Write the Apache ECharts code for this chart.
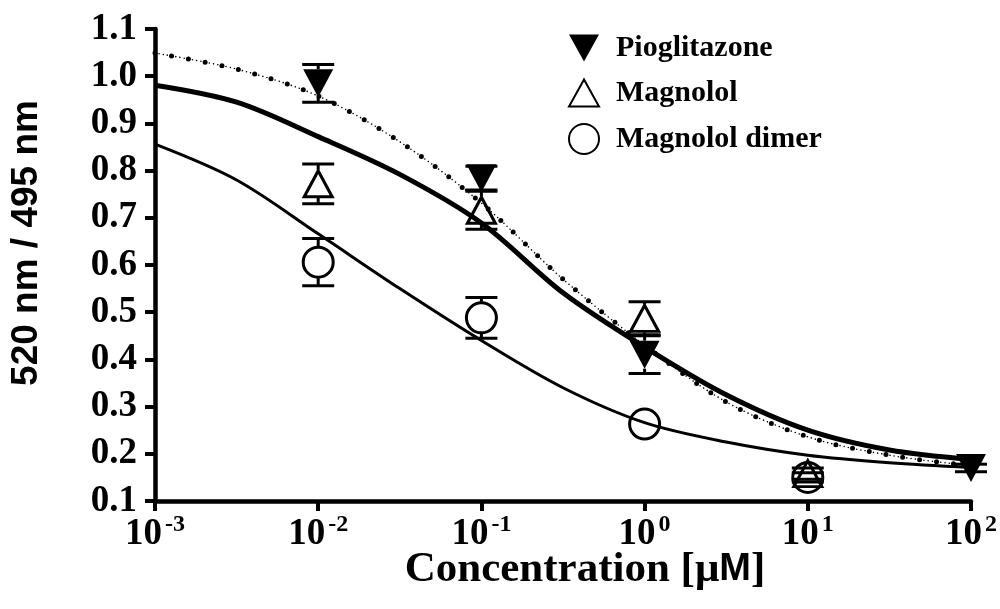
<!DOCTYPE html>
<html>
<head>
<meta charset="utf-8">
<script src="https://cdn.jsdelivr.net/npm/echarts@6/dist/echarts.min.js"></script>
<style>
  html, body { margin: 0; padding: 0; background: #fff; }
  #chart { width: 1000px; height: 609px; }
</style>
</head>
<body>
<div id="chart"></div>
<script>
// Fitted dose-response curves, sampled every half decade (log10 of concentration)
const curveLogX = [-3, -2.5, -2, -1.5, -1, -0.5, 0, 0.5, 1, 1.5, 2];
const pioFit   = [1.049, 1.015, 0.958, 0.861, 0.731, 0.570, 0.430, 0.310, 0.236, 0.197, 0.175];
const magFit   = [0.981, 0.945, 0.872, 0.792, 0.689, 0.541, 0.426, 0.325, 0.250, 0.208, 0.188];
const dimerFit = [0.856, 0.780, 0.666, 0.550, 0.440, 0.340, 0.266, 0.225, 0.197, 0.181, 0.171];

// Measured ratios (mean and SEM) per concentration in µM
const pioConc = [0.01, 0.1, 1, 100];
const pioMean = [0.985, 0.784, 0.410, 0.170];
const pioSem  = [0.040, 0.025, 0.040, 0.008];

const magConc = [0.01, 0.1, 1, 10];
const magMean = [0.772, 0.716, 0.487, 0.158];
const magSem  = [0.042, 0.040, 0.035, 0.012];

const dimConc = [0.01, 0.1, 1, 10];
const dimMean = [0.606, 0.488, 0.263, 0.150];
const dimSem  = [0.050, 0.043, 0.000, 0.010];

const seriesNames = ['Pioglitazone', 'Magnolol', 'Magnolol dimer'];
const yTicks = { min: 0.1, max: 1.1, step: 0.1 };
const xRange = { min: 0.001, max: 100 };

const SERIF = '"Liberation Serif", "Times New Roman", "DejaVu Serif", serif';
const SANS = '"Liberation Sans", Arial, "DejaVu Sans", sans-serif';

const DOWN_TRIANGLE = 'path://M0 0 L10 0 L5 9 Z';
const UP_TRIANGLE = 'path://M5 0 L10 9 L0 9 Z';
const SMOOTH = 0.33;

const curve = (vals) => curveLogX.map((e, i) => [Math.pow(10, e), vals[i]]);
const points = (conc, mean) => conc.map((c, i) => [c, mean[i]]);

// Error bars drawn outside the marker only, with caps
function errorBars(conc, mean, sem, gap) {
  return {
    type: 'custom',
    silent: true,
    z: 3,
    data: conc.map((c, i) => [c, mean[i], sem[i]]),
    encode: { x: 0, y: 1 },
    renderItem: function (params, api) {
      const x = api.value(0), m = api.value(1), e = api.value(2);
      if (!e) return { type: 'group', children: [] };
      const c = api.coord([x, m]);
      const yt = api.coord([x, m + e])[1];
      const yb = api.coord([x, m - e])[1];
      const half = 16;
      const style = { stroke: '#000', lineWidth: 3 };
      const kids = [
        { type: 'line', shape: { x1: c[0] - half, y1: yt, x2: c[0] + half, y2: yt }, style: style },
        { type: 'line', shape: { x1: c[0] - half, y1: yb, x2: c[0] + half, y2: yb }, style: style }
      ];
      if (yt < c[1] - gap) kids.push({ type: 'line', shape: { x1: c[0], y1: yt, x2: c[0], y2: c[1] - gap }, style: style });
      if (yb > c[1] + gap) kids.push({ type: 'line', shape: { x1: c[0], y1: c[1] + gap, x2: c[0], y2: yb }, style: style });
      return { type: 'group', children: kids };
    }
  };
}

const chart = echarts.init(document.getElementById('chart'));
chart.setOption({
  animation: false,
  backgroundColor: '#fff',
  grid: { left: 155, right: 28, top: 29, bottom: 108, containLabel: false },
  legend: {
    data: seriesNames,
    orient: 'vertical',
    left: 563,
    top: 28,
    itemWidth: 30,
    itemHeight: 30,
    itemGap: 15,
    textStyle: { fontFamily: SERIF, fontWeight: 'bold', fontSize: 30, lineHeight: 30, color: '#000', padding: [0, 0, 0, 12] }
  },
  xAxis: {
    type: 'log',
    logBase: 10,
    min: xRange.min,
    max: xRange.max,
    interval: 1,
    name: '{a|Concentration [μ}{m|M}{a|]}',
    nameLocation: 'middle',
    nameGap: 47,
    nameMoveOverlap: false,
    nameTextStyle: {
      padding: [0, 0, 0, 44],
      rich: {
        a: { fontFamily: SERIF, fontWeight: 'bold', fontSize: 43, color: '#000' },
        m: { fontFamily: SANS, fontWeight: 'bold', fontSize: 38, color: '#000' }
      }
    },
    axisLine: { lineStyle: { color: '#000', width: 4.5 } },
    axisTick: { length: 10, lineStyle: { color: '#000', width: 4 } },
    splitLine: { show: false },
    minorTick: { show: false },
    axisLabel: {
      margin: 12,
      formatter: function (v) {
        const p = Math.round(Math.log10(v));
        return '{b|10}{s|' + (p < 0 ? '-' + (-p) : p) + '}';
      },
      rich: {
        b: { fontFamily: SERIF, fontWeight: 'bold', fontSize: 37, color: '#000', lineHeight: 40, verticalAlign: 'bottom' },
        s: { fontFamily: SERIF, fontWeight: 'bold', fontSize: 24, color: '#000', lineHeight: 40, verticalAlign: 'top', padding: [0, 0, 0, 3] }
      }
    }
  },
  yAxis: {
    type: 'value',
    min: yTicks.min,
    max: yTicks.max,
    interval: yTicks.step,
    name: '520 nm / 495 nm',
    nameLocation: 'middle',
    nameGap: 110,
    nameRotate: 90,
    nameTextStyle: { fontFamily: SANS, fontWeight: 'bold', fontSize: 37, color: '#000', padding: [0, 0, 0, 44] },
    axisLine: { show: true, lineStyle: { color: '#000', width: 4.5 } },
    axisTick: { show: true, length: 10, lineStyle: { color: '#000', width: 4 } },
    splitLine: { show: false },
    axisLabel: {
      margin: 18,
      fontFamily: SERIF, fontWeight: 'bold', fontSize: 37, color: '#000',
      formatter: (v) => v.toFixed(1)
    }
  },
  series: [
    // fitted curves
    { name: 'Pioglitazone fit', type: 'line', smooth: SMOOTH, showSymbol: false, silent: true, z: 2,
      data: curve(pioFit), lineStyle: { color: '#000', width: 5, type: [0, 17], cap: 'round' } },
    { name: 'Pioglitazone fit dots', type: 'line', smooth: SMOOTH, showSymbol: false, silent: true, z: 2,
      data: curve(pioFit), lineStyle: { color: '#000', width: 1.6, type: [0, 4.25], cap: 'round' } },
    { name: 'Magnolol fit', type: 'line', smooth: SMOOTH, showSymbol: false, silent: true, z: 2,
      data: curve(magFit), lineStyle: { color: '#000', width: 5 } },
    { name: 'Magnolol dimer fit', type: 'line', smooth: SMOOTH, showSymbol: false, silent: true, z: 2,
      data: curve(dimerFit), lineStyle: { color: '#000', width: 3 } },

    // error bars
    errorBars(pioConc, pioMean, pioSem, 14),
    errorBars(magConc, magMean, magSem, 14),
    errorBars(dimConc, dimMean, dimSem, 16),

    // measured points
    { name: 'Pioglitazone', type: 'scatter', z: 4,
      symbol: DOWN_TRIANGLE, symbolSize: [30, 28],
      itemStyle: { color: '#000', borderWidth: 0, opacity: 1 },
      data: points(pioConc, pioMean) },
    { name: 'Magnolol', type: 'scatter', z: 4,
      symbol: UP_TRIANGLE, symbolSize: [28, 26],
      itemStyle: { color: 'rgba(255,255,255,0)', borderColor: '#000', borderWidth: 3, opacity: 1 },
      data: points(magConc, magMean) },
    { name: 'Magnolol dimer', type: 'scatter', z: 4,
      symbol: 'circle', symbolSize: 30,
      itemStyle: { color: 'rgba(255,255,255,0)', borderColor: '#000', borderWidth: 3, opacity: 1 },
      data: points(dimConc, dimMean) }
  ]
});
</script>
</body>
</html>
